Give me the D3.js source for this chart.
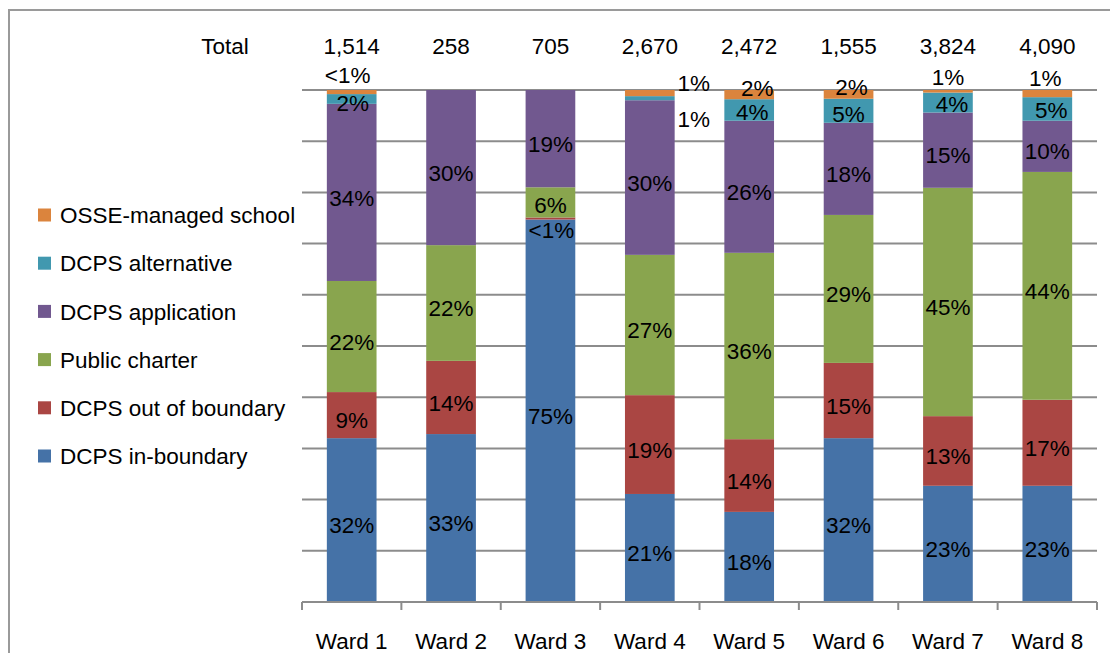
<!DOCTYPE html>
<html>
<head>
<meta charset="utf-8">
<script src="https://cdn.jsdelivr.net/npm/d3@7/dist/d3.min.js"></script>
<style>
  html, body { margin: 0; padding: 0; background: #fff; }
  svg { display: block; }
  text { font-family: "Liberation Sans", Arial, sans-serif; fill: #000; }
</style>
</head>
<body>
<svg id="chart" width="1110" height="653"></svg>
<script>
// ---- data ----
const wards = ["Ward 1", "Ward 2", "Ward 3", "Ward 4", "Ward 5", "Ward 6", "Ward 7", "Ward 8"];
const totals = ["1,514", "258", "705", "2,670", "2,472", "1,555", "3,824", "4,090"];
const seriesNames = ["DCPS in-boundary", "DCPS out of boundary", "Public charter", "DCPS application", "DCPS alternative", "OSSE-managed school"];
const inBoundary    = [32.0, 32.8, 74.7, 21.1, 17.6, 32.0, 22.7, 22.7];
const outOfBoundary = [ 9.0, 14.3,  0.4, 19.3, 14.2, 14.7, 13.6, 16.8];
const publicCharter = [21.7, 22.6,  5.9, 27.4, 36.4, 28.9, 44.6, 44.5];
const application   = [34.6, 30.3, 19.0, 30.2, 25.8, 18.0, 14.7, 10.0];
const alternative   = [ 1.9,  0.0,  0.0,  0.8,  4.2,  4.7,  3.9,  4.6];
const osse          = [ 0.8,  0.0,  0.0,  1.2,  1.8,  1.7,  0.5,  1.4];
const inBoundaryLbl    = ["32%", "33%", "75%", "21%", "18%", "32%", "23%", "23%"];
const outOfBoundaryLbl = ["9%", "14%", "<1%", "19%", "14%", "15%", "13%", "17%"];
const publicCharterLbl = ["22%", "22%", "6%", "27%", "36%", "29%", "45%", "44%"];
const applicationLbl   = ["34%", "30%", "19%", "30%", "26%", "18%", "15%", "10%"];
const alternativeLbl   = ["2%", "", "", "1%", "4%", "5%", "4%", "5%"];
const osseLbl          = ["<1%", "", "", "1%", "2%", "2%", "1%", "1%"];
const yTicks = [0, 10, 20, 30, 40, 50, 60, 70, 80, 90, 100];

const seriesValues = [inBoundary, outOfBoundary, publicCharter, application, alternative, osse];
const seriesLabels = [inBoundaryLbl, outOfBoundaryLbl, publicCharterLbl, applicationLbl, alternativeLbl, osseLbl];
const colors = ["#4572A7", "#AA4643", "#89A54E", "#71588F", "#4198AF", "#DB843D"];

// label nudges (series index, ward index) -> [dx, dy]
const nudges = {
  "5-0": [-4, -22], "4-0": [1, -1],
  "1-2": [1, 6], "2-2": [0, -2],
  "5-3": [44, -15], "4-3": [44, 16],
  "5-4": [8, -12], "4-4": [3, -3],
  "5-5": [3, -12], "4-5": [0, -2],
  "5-6": [0, -19], "4-6": [4, -4],
  "5-7": [-2, -21], "4-7": [4, -4]
};

// ---- layout ----
const svg = d3.select("#chart");
const fs = 22.5;
const x = d3.scaleBand().domain(wards).range([302, 1097]).paddingInner(0.5).paddingOuter(0.25);
const y = d3.scaleLinear().domain([0, 100]).range([602, 90]);

// outer border (top & left)
svg.append("path").attr("d", "M9,653 V10 H1110").attr("fill", "none").attr("stroke", "#9a9a9a").attr("stroke-width", 2);

// gridlines
svg.append("g").selectAll("line").data(yTicks.filter(d => d > 0)).join("line")
  .attr("x1", 302).attr("x2", 1097)
  .attr("y1", d => y(d)).attr("y2", d => y(d))
  .attr("stroke", "#8c8c8c").attr("stroke-width", 2);

// stacked data
const rows = wards.map((w, i) => {
  const o = { ward: w };
  seriesNames.forEach((s, k) => o[s] = seriesValues[k][i]);
  return o;
});
const stack = d3.stack().keys(seriesNames)(rows);

const g = svg.append("g");
stack.forEach((layer, k) => {
  g.selectAll(null).data(layer).join("rect")
    .attr("x", d => x(d.data.ward))
    .attr("width", x.bandwidth())
    .attr("y", d => y(d[1]))
    .attr("height", d => Math.max(0, y(d[0]) - y(d[1])))
    .attr("fill", colors[k]);
});

// x axis line and ticks
svg.append("line").attr("x1", 302).attr("x2", 1097).attr("y1", 602).attr("y2", 602)
  .attr("stroke", "#8c8c8c").attr("stroke-width", 2);
const boundaries = d3.range(wards.length + 1).map(i => 302 + i * x.step());
svg.append("g").selectAll("line").data(boundaries).join("line")
  .attr("x1", d => d).attr("x2", d => d).attr("y1", 602).attr("y2", 610)
  .attr("stroke", "#8c8c8c").attr("stroke-width", 2);

// x labels
svg.append("g").selectAll("text").data(wards).join("text")
  .attr("x", d => x(d) + x.bandwidth() / 2).attr("y", 649)
  .attr("text-anchor", "middle").attr("font-size", fs).text(d => d);

// totals
svg.append("text").attr("x", 225).attr("y", 54).attr("text-anchor", "middle").attr("font-size", fs).text("Total");
svg.append("g").selectAll("text").data(wards).join("text")
  .attr("x", d => x(d) + x.bandwidth() / 2).attr("y", 54)
  .attr("text-anchor", "middle").attr("font-size", fs).text((d, i) => totals[i]);

// segment labels
const lg = svg.append("g");
stack.forEach((layer, k) => {
  layer.forEach((d, i) => {
    const t = seriesLabels[k][i];
    if (!t) return;
    const nd = nudges[k + "-" + i] || [0, 0];
    const cx = x(d.data.ward) + x.bandwidth() / 2 + nd[0];
    const cy = (y(d[0]) + y(d[1])) / 2 + 5 + nd[1];
    lg.append("text").attr("x", cx).attr("y", cy + 0.36 * fs)
      .attr("text-anchor", "middle").attr("font-size", fs).text(t);
  });
});

// legend (top item = last series)
const legendItems = seriesNames.map((s, k) => ({ name: s, color: colors[k] })).reverse();
const leg = svg.append("g").selectAll("g").data(legendItems).join("g")
  .attr("transform", (d, i) => `translate(38, ${215 + i * 48.2})`);
leg.append("rect").attr("x", 0).attr("y", -6.5).attr("width", 13).attr("height", 13).attr("fill", d => d.color);
leg.append("text").attr("x", 22).attr("y", 0.36 * fs).attr("font-size", fs).text(d => d.name);
</script>
</body>
</html>
